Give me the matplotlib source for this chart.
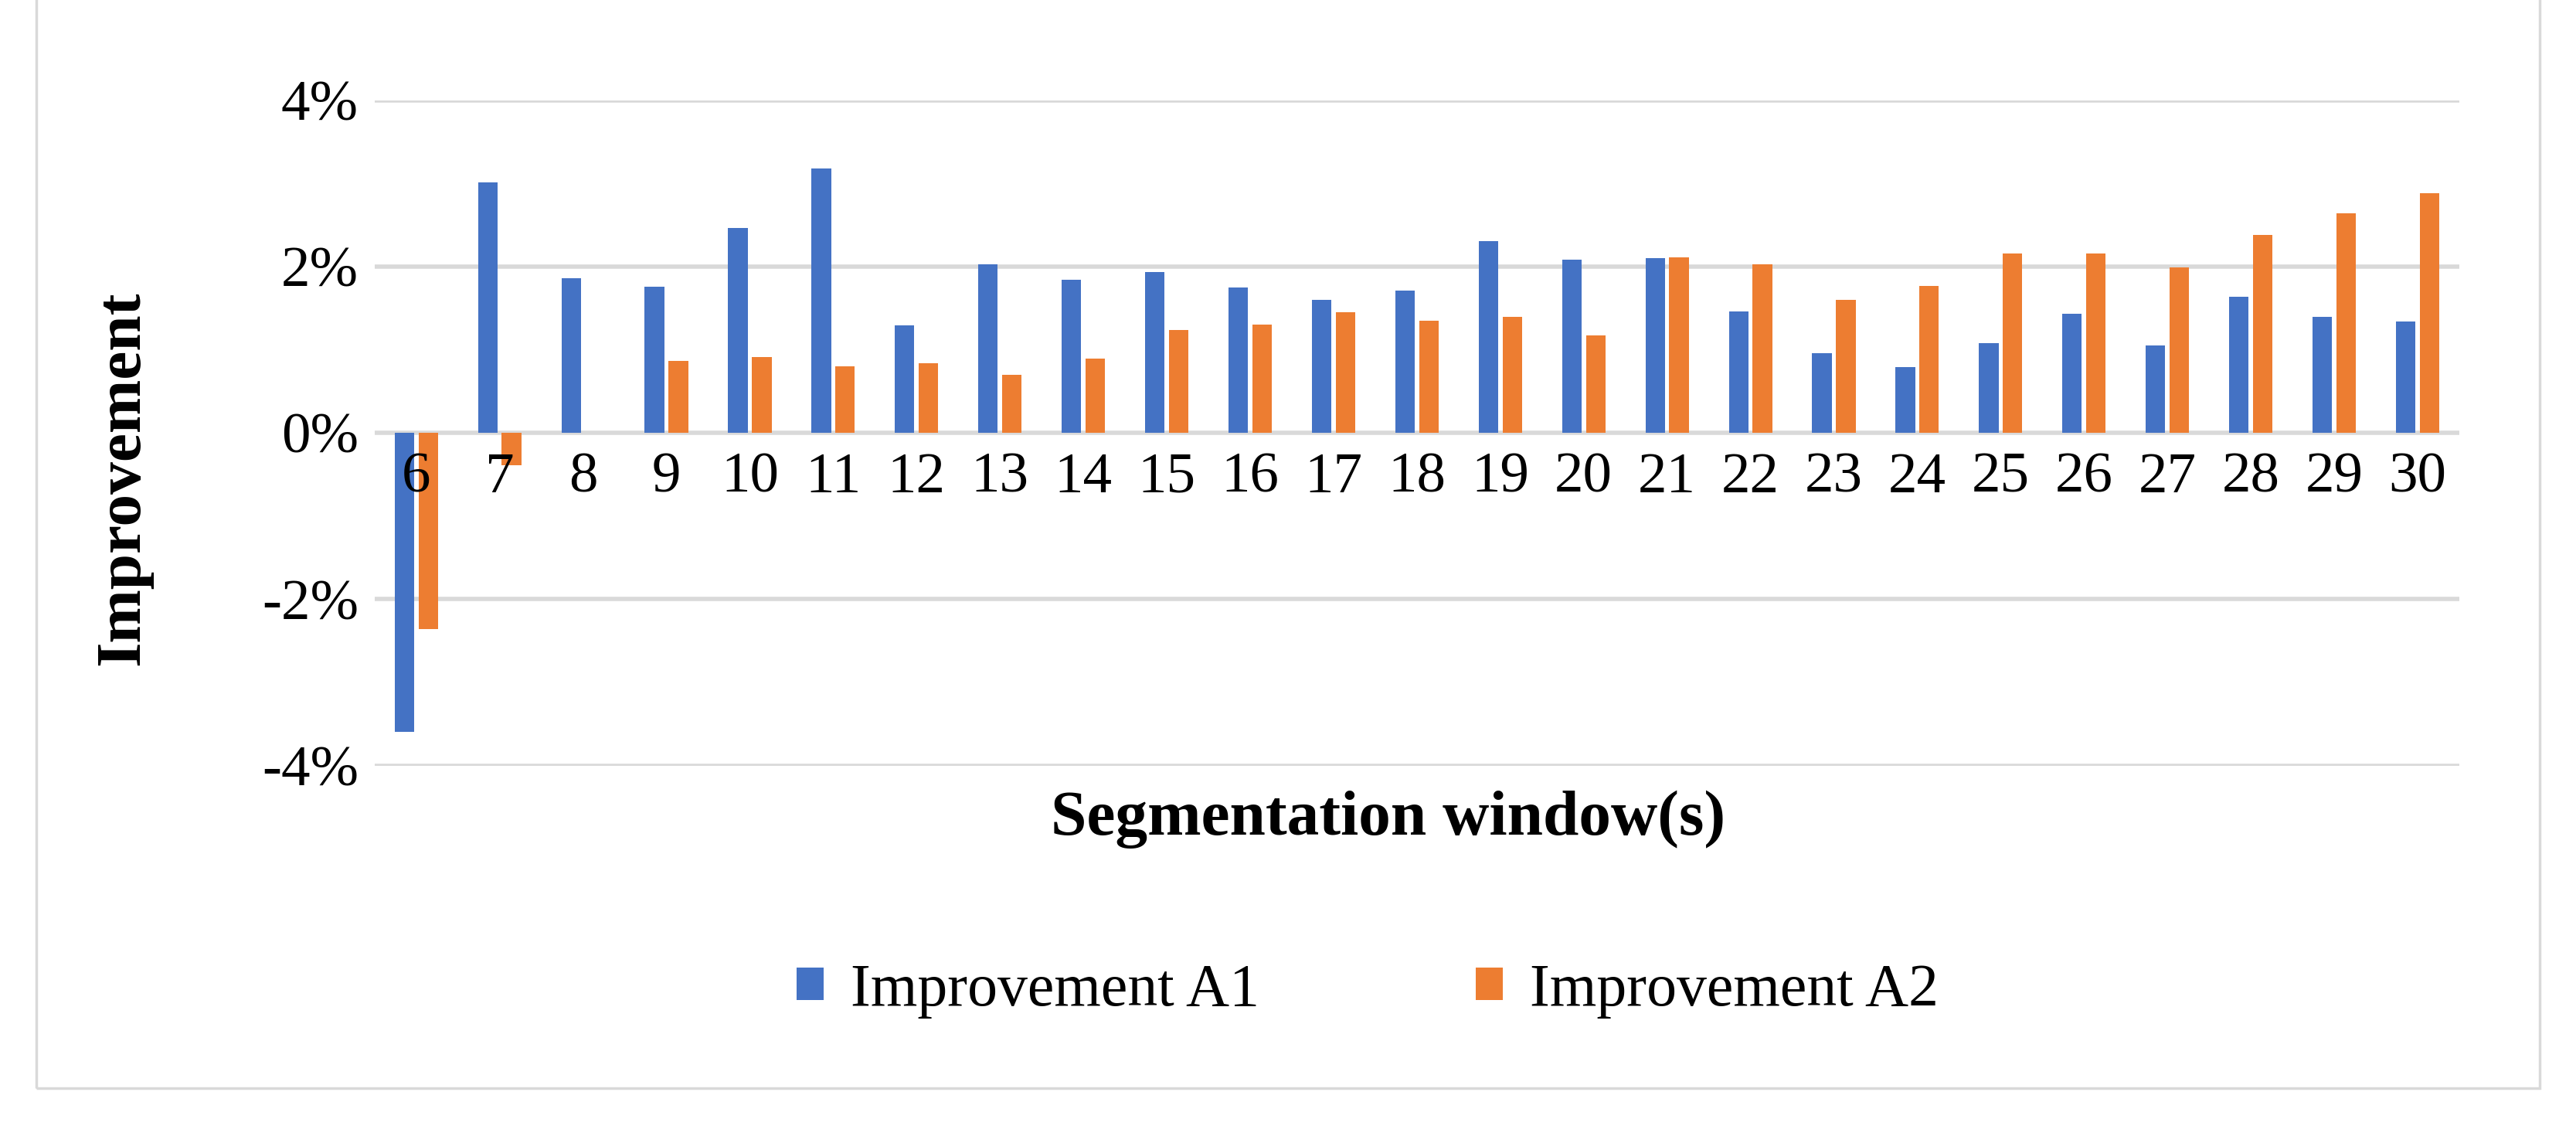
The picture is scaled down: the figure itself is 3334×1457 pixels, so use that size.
import matplotlib.pyplot as plt
import numpy as np
from matplotlib.patches import Rectangle

# Data (percent)
windows = [str(w) for w in range(6, 31)]
improvement_a1 = [-3.59, 3.01, 1.86, 1.76, 2.46, 3.18, 1.29, 2.03, 1.84, 1.93,
                  1.75, 1.60, 1.71, 2.31, 2.08, 2.10, 1.46, 0.96, 0.79, 1.08,
                  1.43, 1.05, 1.64, 1.40, 1.34]
improvement_a2 = [-2.36, -0.39, 0.0, 0.87, 0.91, 0.80, 0.84, 0.70, 0.89, 1.24,
                  1.30, 1.45, 1.35, 1.40, 1.17, 2.11, 2.03, 1.60, 1.77, 2.16,
                  2.16, 1.99, 2.38, 2.64, 2.88]
y_ticks = [-4, -2, 0, 2, 4]
y_tick_labels = ['-4%', '-2%', '0%', '2%', '4%']

plt.rcParams['font.family'] = ['Liberation Serif', 'DejaVu Serif']

fig = plt.figure(figsize=(33.34, 14.57), dpi=100)
ax = fig.add_axes([0.1454, 0.320, 0.8093, 0.591])

x = np.arange(len(windows))
w = 0.234
ax.bar(x - 0.143, improvement_a1, w, color='#4472C4', label='Improvement A1', zorder=1)
ax.bar(x + 0.143, improvement_a2, w, color='#ED7D31', label='Improvement A2', zorder=1)

# gridlines under the bars
for t in y_ticks:
    ax.axhline(t, color='#D9D9D9', lw=4, zorder=0)

# move x axis to zero before setting the labels (set_position resets ticks)
ax.spines['bottom'].set_position(('data', 0))
for s in ax.spines.values():
    s.set_visible(False)

ax.set_xlim(-0.5, len(windows) - 0.5)
ax.set_ylim(-4, 4)
ax.set_yticks(y_ticks)
ax.set_yticklabels(y_tick_labels, fontsize=54)
ax.set_xticks(x)
ax.set_xticklabels(windows, fontsize=54)
ax.tick_params(axis='x', length=0, pad=18)
ax.tick_params(axis='y', length=0, pad=15)
ax.xaxis.set_zorder(3)

fig.text(0.048, 0.575, 'Improvement', rotation=90, fontsize=60,
         fontweight='bold', ha='center', va='center')
fig.text(0.539, 0.272, 'Segmentation window(s)', fontsize=60,
         fontweight='bold', ha='center', va='center')

fig.legend(loc='center', bbox_to_anchor=(0.531, 0.120), ncol=2, frameon=False,
           fontsize=56, handlelength=0.45, handleheight=0.45, handletextpad=0.45,
           columnspacing=3.6)

fig.patches.append(Rectangle((22 / 1568, 1 - 662 / 685), (1546 - 22) / 1568, 1.0,
                             transform=fig.transFigure, fill=False,
                             edgecolor='#D9D9D9', lw=2.5))

fig.savefig('out.png', dpi=100, facecolor='white')
